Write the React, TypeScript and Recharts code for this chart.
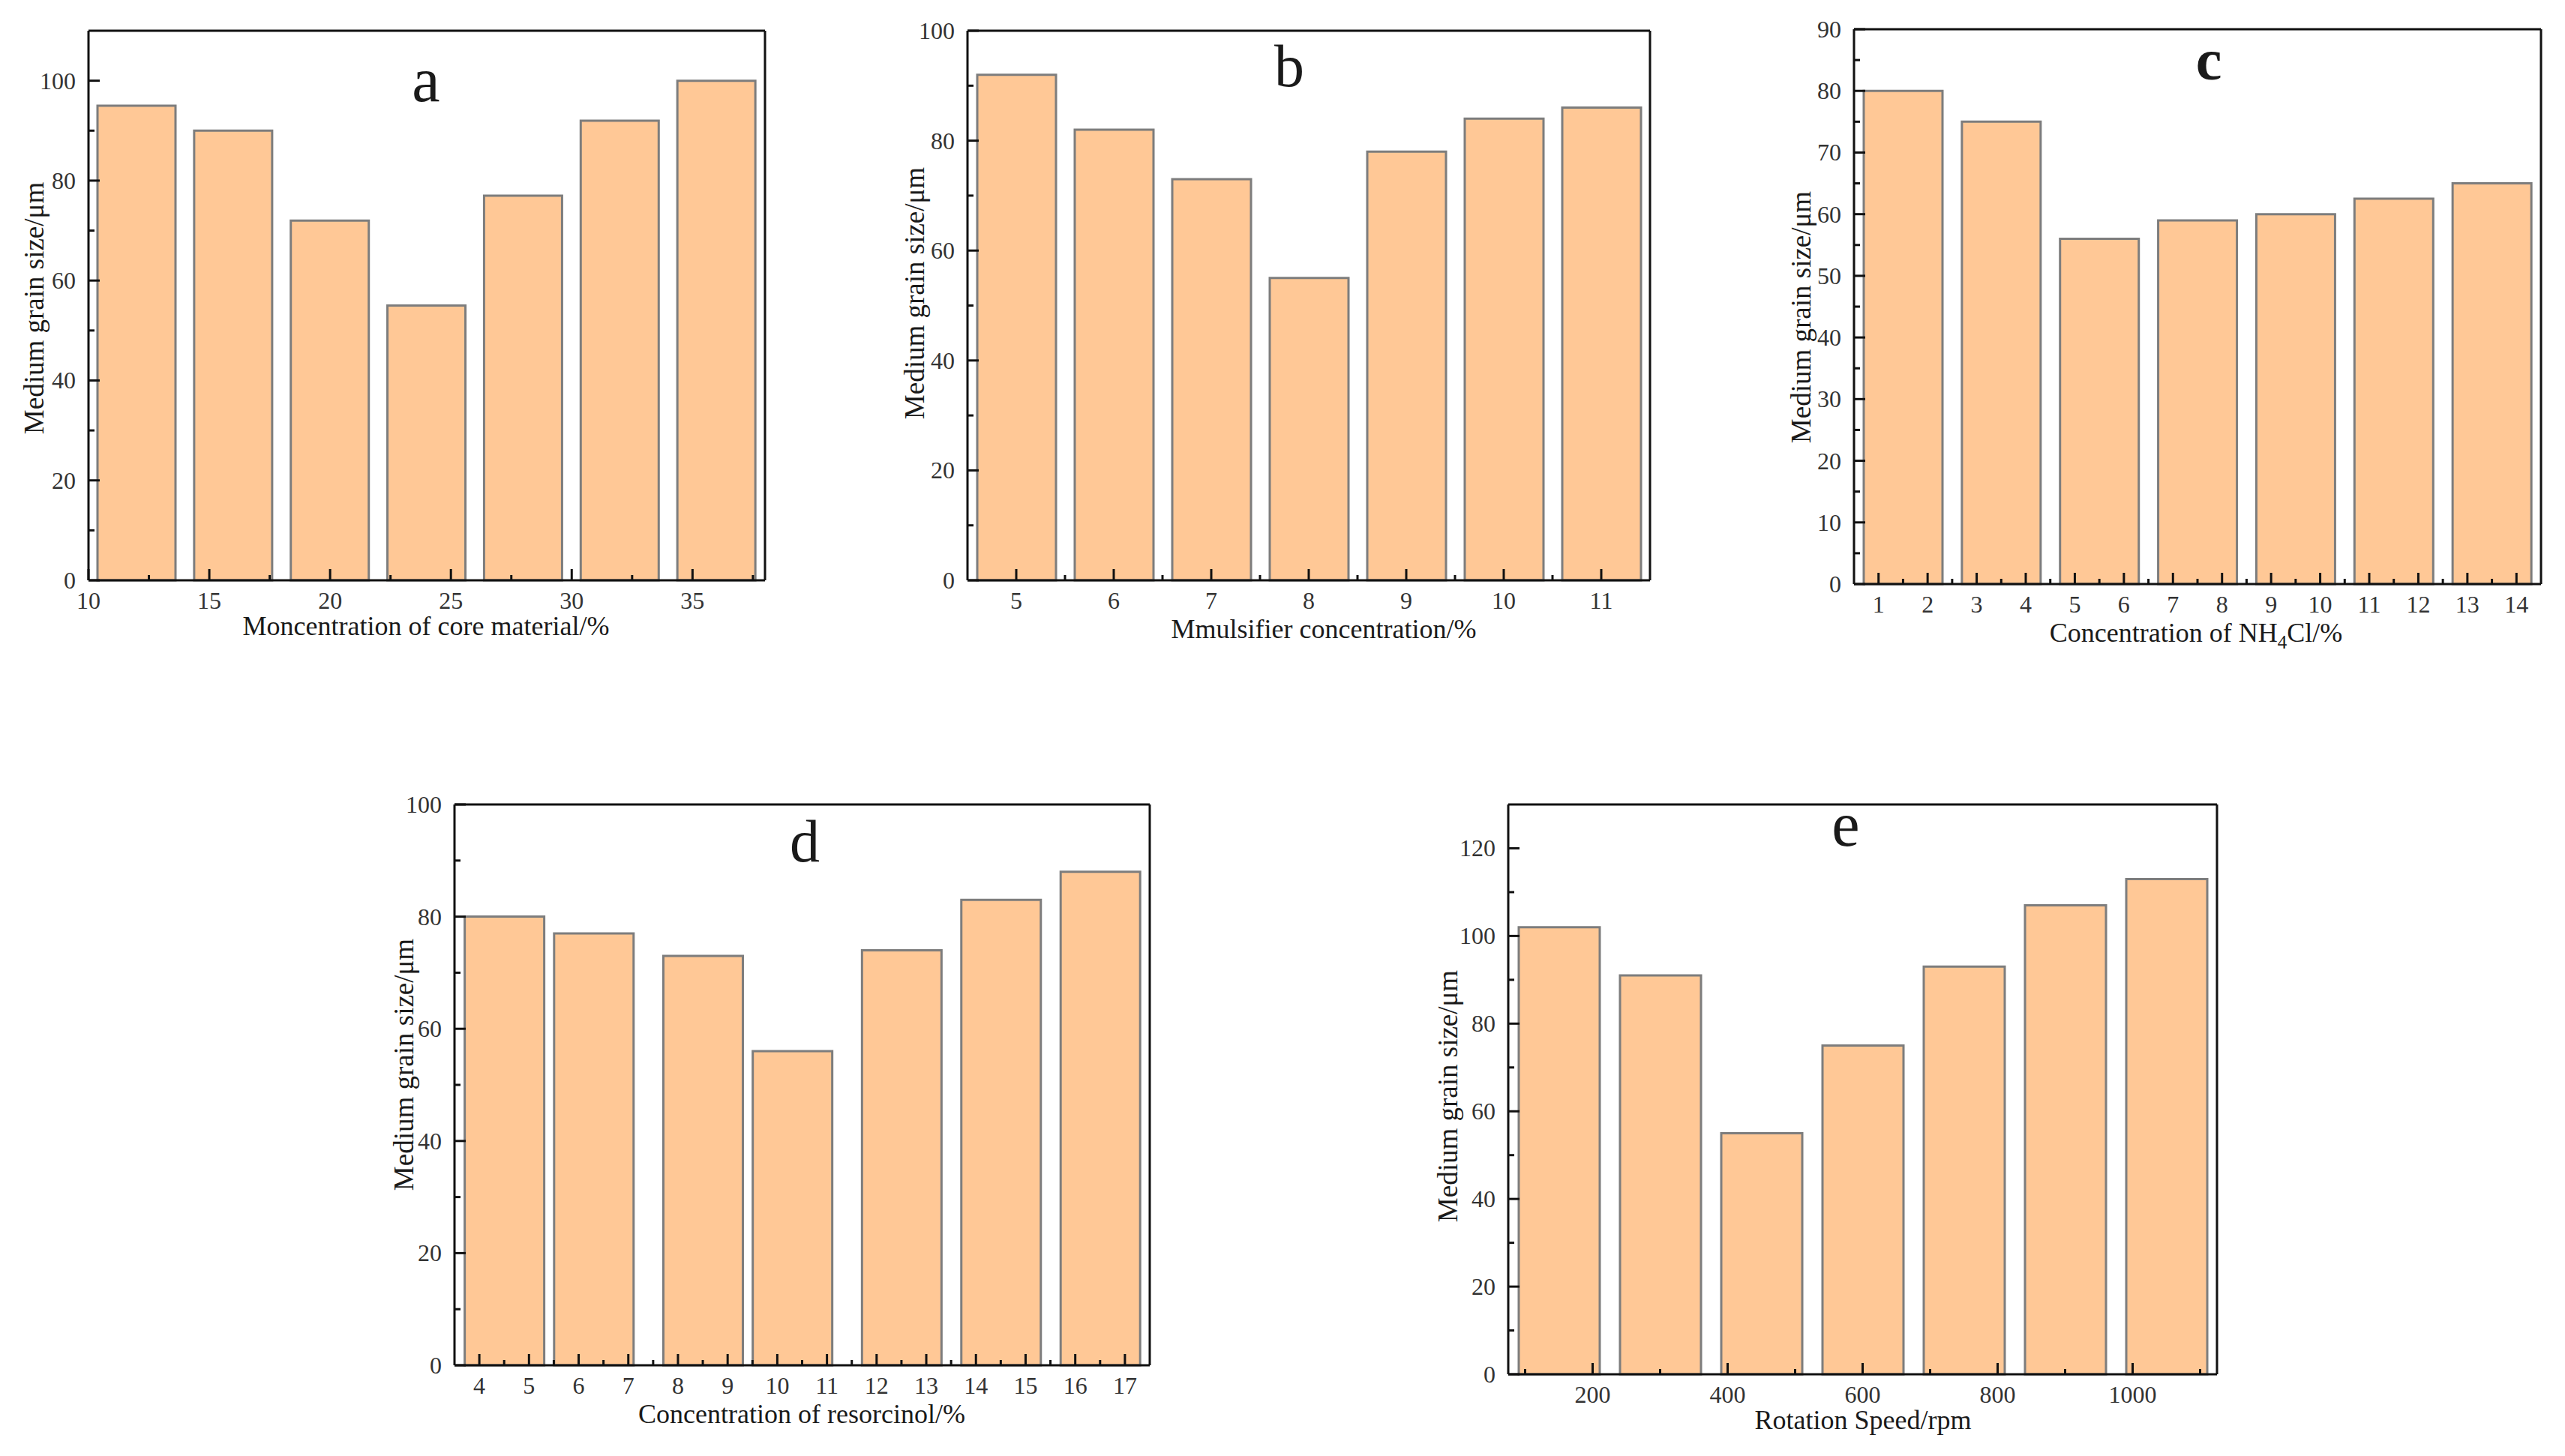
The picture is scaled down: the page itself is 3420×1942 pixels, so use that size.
import React from "react";
import { BarChart, Bar, XAxis, YAxis } from "recharts";

// a: core material
const coreMaterialPos = [12, 16, 20, 24, 28, 32, 36];
const coreMaterialSize = [95, 90, 72, 55, 77, 92, 100];
const coreMaterialTicks = [10, 15, 20, 25, 30, 35];

// b: emulsifier
const emulsifierPos = [5, 6, 7, 8, 9, 10, 11];
const emulsifierSize = [92, 82, 73, 55, 78, 84, 86];
const emulsifierTicks = [5, 6, 7, 8, 9, 10, 11];

// c: NH4Cl
const nh4clPos = [1.5, 3.5, 5.5, 7.5, 9.5, 11.5, 13.5];
const nh4clSize = [80, 75, 56, 59, 60, 62.5, 65];
const nh4clTicks = [1, 2, 3, 4, 5, 6, 7, 8, 9, 10, 11, 12, 13, 14];

// d: resorcinol
const resorcinolPos = [4.5, 6.3, 8.5, 10.3, 12.5, 14.5, 16.5];
const resorcinolSize = [80, 77, 73, 56, 74, 83, 88];
const resorcinolTicks = [4, 5, 6, 7, 8, 9, 10, 11, 12, 13, 14, 15, 16, 17];

// e: rotation speed
const speedPos = [150, 300, 450, 600, 750, 900, 1050];
const speedSize = [102, 91, 55, 75, 93, 107, 113];
const speedTicks = [200, 400, 600, 800, 1000];

const yTicks100 = [0, 20, 40, 60, 80, 100];
const yTicks90 = [0, 10, 20, 30, 40, 50, 60, 70, 80, 90];
const yTicks120 = [0, 20, 40, 60, 80, 100, 120];

const FONT = '"Liberation Serif", "Times New Roman", serif';
const BAR_FILL = "#FFC896";
const BAR_STROKE = "#7d7d7d";
const INK = "#111";

const YW = 140;
const XH = 130;
const MT = 20;
const MR = 20;

function minorsOf(majors: number[], domain: number[]) {
  const step = majors[1] - majors[0];
  const out: number[] = [];
  for (let v = majors[0] - step / 2; v < domain[1] - 1e-6; v += step) {
    if (v > domain[0] + 1e-6) out.push(+v.toFixed(4));
  }
  return out;
}

const isMajor = (v: number, majors: number[]) =>
  majors.some((m) => Math.abs(m - v) < 1e-6);

function XTick(props: any) {
  const { x, y, payload, majors } = props;
  const major = isMajor(payload.value, majors);
  return (
    <g>
      <line x1={x} y1={y} x2={x} y2={y - (major ? 15 : 7)} stroke={INK} strokeWidth={3} />
      {major && (
        <text x={x} y={y + 38} textAnchor="middle" fontSize={32} fontFamily={FONT} fill="#333">
          {payload.value}
        </text>
      )}
    </g>
  );
}

function YTick(props: any) {
  const { x, y, payload, majors } = props;
  const major = isMajor(payload.value, majors);
  return (
    <g>
      <line x1={x} y1={y} x2={x + (major ? 15 : 8)} y2={y} stroke={INK} strokeWidth={3} />
      {major && (
        <text x={x - 17} y={y + 11} textAnchor="end" fontSize={32} fontFamily={FONT} fill="#333">
          {payload.value}
        </text>
      )}
    </g>
  );
}

type Panel = {
  id: string;
  L: number;
  R: number;
  T: number;
  B: number;
  xDomain: number[];
  yMax: number;
  pos: number[];
  vals: number[];
  xMajor: number[];
  yMajor: number[];
  barSize: number;
};

const panels: Panel[] = [
  { id: "a", L: 118, R: 1020, T: 41, B: 774, xDomain: [10, 38], yMax: 110, pos: coreMaterialPos, vals: coreMaterialSize, xMajor: coreMaterialTicks, yMajor: yTicks100, barSize: 104 },
  { id: "b", L: 1290, R: 2200, T: 41, B: 774, xDomain: [4.5, 11.5], yMax: 100, pos: emulsifierPos, vals: emulsifierSize, xMajor: emulsifierTicks, yMajor: yTicks100, barSize: 105 },
  { id: "c", L: 2472, R: 3388, T: 39, B: 779, xDomain: [0.5, 14.5], yMax: 90, pos: nh4clPos, vals: nh4clSize, xMajor: nh4clTicks, yMajor: yTicks90, barSize: 105 },
  { id: "d", L: 606, R: 1533, T: 1073, B: 1821, xDomain: [3.5, 17.5], yMax: 100, pos: resorcinolPos, vals: resorcinolSize, xMajor: resorcinolTicks, yMajor: yTicks100, barSize: 106 },
  { id: "e", L: 2011, R: 2956, T: 1073, B: 1833, xDomain: [75, 1125], yMax: 130, pos: speedPos, vals: speedSize, xMajor: speedTicks, yMajor: yTicks120, barSize: 108 },
];

function PanelChart({ p }: { p: Panel }) {
  const data = p.pos.map((x, i) => ({ x, v: p.vals[i] }));
  const xTicks = [...p.xMajor, ...minorsOf(p.xMajor, p.xDomain)].sort((a, b) => a - b);
  const yTicks = [...p.yMajor, ...minorsOf(p.yMajor, [0, p.yMax])].sort((a, b) => a - b);
  const width = p.R - p.L + YW + MR;
  const height = p.B - p.T + MT + XH;
  const axisLine = { stroke: INK, strokeWidth: 3 };
  return (
    <div style={{ position: "absolute", left: p.L - YW, top: p.T - MT }}>
      <BarChart width={width} height={height} data={data} margin={{ top: MT - 1, right: MR - 1, bottom: 0, left: 0 }}>
        <Bar dataKey="v" barSize={p.barSize} fill={BAR_FILL} stroke={BAR_STROKE} strokeWidth={3} isAnimationActive={false} />
        <XAxis
          dataKey="x"
          type="number"
          domain={p.xDomain}
          ticks={xTicks}
          interval={0}
          height={XH}
          tickSize={0}
          tickMargin={0}
          tickLine={false}
          axisLine={axisLine}
          tick={(t: any) => <XTick {...t} majors={p.xMajor} />}
        />
        {/* top frame line */}
        <XAxis xAxisId="top" orientation="top" dataKey="x" type="number" domain={p.xDomain} ticks={p.xMajor} height={1} tick={false} tickLine={false} axisLine={axisLine} />
        <YAxis
          type="number"
          domain={[0, p.yMax]}
          ticks={yTicks}
          interval={0}
          width={YW}
          tickSize={0}
          tickMargin={0}
          tickLine={false}
          axisLine={axisLine}
          tick={(t: any) => <YTick {...t} majors={p.yMajor} />}
        />
        {/* right frame line */}
        <YAxis yAxisId="right" orientation="right" type="number" domain={[0, p.yMax]} ticks={p.yMajor} width={1} tick={false} tickLine={false} axisLine={axisLine} />
      </BarChart>
    </div>
  );
}

const yLabel = "Medium grain size/\u03bcm";

export default function App() {
  return (
    <div style={{ position: "absolute", left: 0, top: 0, width: 3420, height: 1942, background: "#fff", overflow: "hidden" }}>
      {panels.map((p) => (
        <PanelChart key={p.id} p={p} />
      ))}
      <svg width={3420} height={1942} style={{ position: "absolute", left: 0, top: 0, pointerEvents: "none" }} fontFamily={FONT} fill="#1a1a1a">
        {/* panel letters */}
        <text x={568} y={135} fontSize={84} textAnchor="middle">a</text>
        <text x={1719} y={115} fontSize={80} textAnchor="middle">b</text>
        <text x={2945} y={106} fontSize={78} textAnchor="middle" fontWeight="bold">c</text>
        <text x={1073} y={1149} fontSize={80} textAnchor="middle">d</text>
        <text x={2461} y={1128} fontSize={84} textAnchor="middle">e</text>

        {/* y labels */}
        <text x={58} y={411} fontSize={37} textAnchor="middle" transform="rotate(-90 58 411)">{yLabel}</text>
        <text x={1232} y={391} fontSize={37} textAnchor="middle" transform="rotate(-90 1232 391)">{yLabel}</text>
        <text x={2414} y={423} fontSize={37} textAnchor="middle" transform="rotate(-90 2414 423)">{yLabel}</text>
        <text x={551} y={1420} fontSize={37} textAnchor="middle" transform="rotate(-90 551 1420)">{yLabel}</text>
        <text x={1943} y={1462} fontSize={37} textAnchor="middle" transform="rotate(-90 1943 1462)">{yLabel}</text>

        {/* x labels */}
        <text x={568} y={847} fontSize={36} textAnchor="middle">Moncentration of core material/%</text>
        <text x={1765} y={851} fontSize={36} textAnchor="middle">Mmulsifier concentration/%</text>
        <text x={2928} y={856} fontSize={36} textAnchor="middle">
          Concentration of NH<tspan fontSize={25} dy={9}>4</tspan>
          <tspan dy={-9}>Cl/%</tspan>
        </text>
        <text x={1069} y={1898} fontSize={36} textAnchor="middle">Concentration of resorcinol/%</text>
        <text x={2484} y={1906} fontSize={36} textAnchor="middle">Rotation Speed/rpm</text>
      </svg>
    </div>
  );
}
